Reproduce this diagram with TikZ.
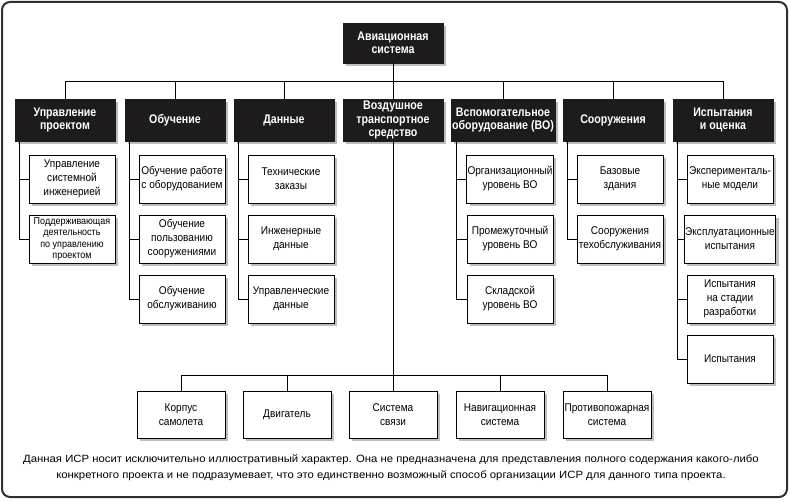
\documentclass[tikz,border=0pt]{standalone}
\usepackage{fontspec}
\setmainfont{Liberation Sans}[FakeStretch=0.9]
\newfontfamily\hdrf{Liberation Sans}[FakeStretch=0.85]
\newfontfamily\capf{Liberation Sans}[FakeStretch=1.08]
\usetikzlibrary{shadows}
\definecolor{boxblack}{HTML}{1E1B1C}
\definecolor{shadowgray}{HTML}{BDBDBD}
\definecolor{framegray}{HTML}{303030}
\tikzset{
  sh/.style={drop shadow={shadow xshift=3pt,shadow yshift=-3pt,fill=shadowgray,opacity=1}},
  hdr/.style={sh,fill=boxblack,text=white,draw=boxblack,minimum width=100pt,minimum height=42pt,
    inner sep=1pt,align=center,font=\hdrf\bfseries\fontsize{12.5}{13.5}\selectfont},
  leaf/.style={sh,fill=white,draw=black,line width=0.9pt,minimum width=86pt,minimum height=48pt,
    inner sep=1pt,align=center,font=\fontsize{11.2}{14}\selectfont},
  bleaf/.style={leaf,minimum width=88pt,minimum height=47pt},
  conn/.style={draw=black,line width=0.9pt},
}
\begin{document}
\begin{tikzpicture}[x=1pt,y=-1pt]
\useasboundingbox (0,0) rectangle (790,502);
\draw[framegray,line width=2pt,rounded corners=8pt] (2,2) rectangle (787,497);

\node[hdr,minimum height=40pt] (top) at (393,43) {Авиационная\\система};

\node[hdr] (p1) at (65,120) {Управление\\проектом};
\node[hdr] (p2) at (175,120) {Обучение};
\node[hdr] (p3) at (284,120) {Данные};
\node[hdr] (p4) at (393,120) {Воздушное\\транспортное\\средство};
\node[hdr] (p5) at (503,120) {Вспомогательное\\оборудование (ВО)};
\node[hdr] (p6) at (613,120) {Сооружения};
\node[hdr] (p7) at (723,120) {Испытания\\и оценка};

\coordinate (bus) at (393,81);
\draw[conn] (top.south) -- (p4.north);
\foreach \p in {p1,p2,p3,p5,p6,p7} \draw[conn] (bus) -| (\p.north);

% column 1
\node[leaf] (c11) at (72,179) {Управление\\системной\\инженерией};
\node[leaf,font=\fontsize{10}{11.5}\selectfont] (c12) at (72,239) {Поддерживающая\\деятельность\\по управлению\\проектом};
% column 2
\node[leaf] (c21) at (182,179) {Обучение работе\\с оборудованием};
\node[leaf] (c22) at (182,239) {Обучение\\пользованию\\сооружениями};
\node[leaf] (c23) at (182,299) {Обучение\\обслуживанию};
% column 3
\node[leaf] (c31) at (291,179) {Технические\\заказы};
\node[leaf] (c32) at (291,239) {Инженерные\\данные};
\node[leaf] (c33) at (291,299) {Управленческие\\данные};
% column 5
\node[leaf] (c51) at (510,179) {Организационный\\уровень ВО};
\node[leaf] (c52) at (510,239) {Промежуточный\\уровень ВО};
\node[leaf] (c53) at (510,299) {Складской\\уровень ВО};
% column 6
\node[leaf] (c61) at (620,179) {Базовые\\здания};
\node[leaf] (c62) at (620,239) {Сооружения\\техобслуживания};
% column 7
\node[leaf] (c71) at (730,179) {Эксперименталь-\\ные модели};
\node[leaf] (c72) at (730,239) {Эксплуатационные\\испытания};
\node[leaf] (c73) at (730,299) {Испытания\\на стадии\\разработки};
\node[leaf] (c74) at (730,359) {Испытания};

\foreach \p/\c in {p1/c11,p1/c12,p2/c21,p2/c22,p2/c23,p3/c31,p3/c32,p3/c33,
                   p5/c51,p5/c52,p5/c53,p6/c61,p6/c62,p7/c71,p7/c72,p7/c73,p7/c74}
  \draw[conn] ([xshift=5pt]\p.south west) |- (\c.west);

% bottom row
\coordinate (bbus) at (393,375);
\node[bleaf] (b1) at (181,414.5) {Корпус\\самолета};
\node[bleaf] (b2) at (287,414.5) {Двигатель};
\node[bleaf] (b3) at (393,414.5) {Система\\связи};
\node[bleaf] (b4) at (500,414.5) {Навигационная\\система};
\node[bleaf] (b5) at (607,414.5) {Противопожарная\\система};
\draw[conn] (p4.south) -- (b3.north);
\foreach \b in {b1,b2,b4,b5} \draw[conn] (bbus) -| (\b.north);

\node[font=\capf\fontsize{10.5}{16}\selectfont,align=center] (cap) at (391,468)
{Данная ИСР носит исключительно иллюстративный характер. Она не предназначена для представления полного содержания какого-либо\\
конкретного проекта и не подразумевает, что это единственно возможный способ организации ИСР для данного типа проекта.};
\end{tikzpicture}
\end{document}
